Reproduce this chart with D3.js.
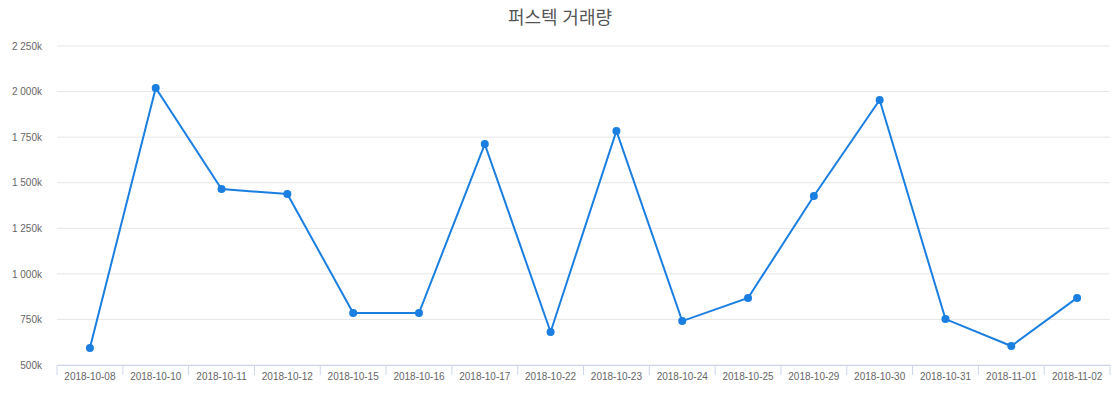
<!DOCTYPE html>
<html><head><meta charset="utf-8">
<script src="https://cdn.jsdelivr.net/npm/d3@7"></script>
<style>body{margin:0;background:#fff;font-family:"Noto Sans","Noto Sans CJK KR",sans-serif;}</style>
</head><body>
<svg id="chart"></svg>
<script>
// 데이터
const dates = ['2018-10-08','2018-10-10','2018-10-11','2018-10-12','2018-10-15','2018-10-16','2018-10-17','2018-10-22','2018-10-23','2018-10-24','2018-10-25','2018-10-29','2018-10-30','2018-10-31','2018-11-01','2018-11-02'];
const volumes = [593000,2020000,1465000,1438000,785000,785000,1712000,681000,1784000,741000,868000,1427000,1954000,752000,604000,868000];
const yTicks = [500000,750000,1000000,1250000,1500000,1750000,2000000,2250000];
const title = '퍼스텍 거래량';

const width = 1120, height = 400;
const margin = {top:46, right:10, bottom:35, left:57};
const svg = d3.select('#chart').attr('width', width).attr('height', height);
const chart = svg.append('g').attr('transform', `translate(${margin.left}, ${margin.top})`);
const iw = width - margin.left - margin.right;
const ih = height - margin.top - margin.bottom;

const xscale = d3.scaleBand().domain(dates).range([0, iw]);
const yscale = d3.scaleLinear().domain([500000, 2250000]).range([ih, 0]);

const fmt = v => { const k = v/1000; return (k >= 1000 ? Math.floor(k/1000) + ' ' + String(k%1000).padStart(3,'0') : k) + 'k'; };

// 그리드
chart.append('g').selectAll('line').data(yTicks).join('line')
  .attr('x1', 0).attr('x2', iw)
  .attr('y1', d => yscale(d)).attr('y2', d => yscale(d))
  .attr('stroke', '#e6e6e6');

const yaxis = chart.append('g').call(d3.axisLeft(yscale).tickValues(yTicks).tickFormat(fmt).tickSize(0).tickPadding(15));
yaxis.select('.domain').remove();
yaxis.selectAll('text').attr('fill', '#666').style('font-size', '10px');

const xaxis = chart.append('g').attr('transform', `translate(0, ${ih})`)
  .call(d3.axisBottom(xscale).tickSize(0).tickPadding(8));
xaxis.select('.domain').attr('stroke', '#ccd6eb');
xaxis.selectAll('text').attr('fill', '#666').style('font-size', '10px');
xaxis.append('g').selectAll('line').data(dates.concat(['end'])).join('line')
  .attr('x1', (d,i) => i*xscale.step()).attr('x2', (d,i) => i*xscale.step())
  .attr('y1', 0).attr('y2', 10).attr('stroke', '#ccd6eb');

const line = d3.line().x((d,i) => xscale(dates[i]) + xscale.bandwidth()/2).y(d => yscale(d));
chart.append('path').datum(volumes).attr('d', line)
  .attr('fill', 'none').attr('stroke', '#1a7fe0').attr('stroke-width', 2);
chart.selectAll('.pt').data(volumes).join('circle').attr('class','pt')
  .attr('cx', (d,i) => xscale(dates[i]) + xscale.bandwidth()/2)
  .attr('cy', d => yscale(d)).attr('r', 4).attr('fill', '#1a7fe0');

svg.append('text').attr('x', width/2).attr('y', 24).attr('text-anchor','middle')
  .attr('fill', '#555').style('font-size', '18px').text(title);
</script>
</body></html>
